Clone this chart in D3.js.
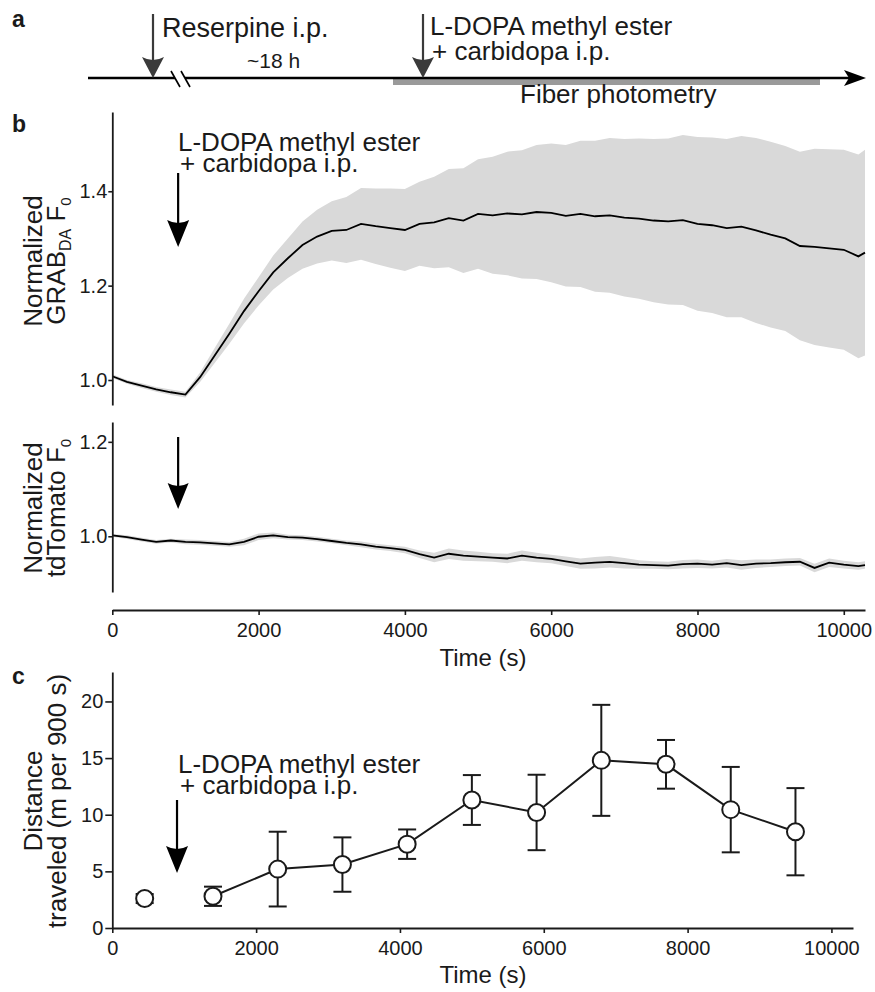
<!DOCTYPE html>
<html>
<head>
<meta charset="utf-8">
<script src="https://cdn.jsdelivr.net/npm/d3@7"></script>
<style>
  body { margin: 0; background: #fff; }
  svg { display: block; font-family: "Liberation Sans", Arial, Helvetica, sans-serif; }
</style>
</head>
<body>
<script>
// sample times of the photometry traces (s)
const traceTime = d3.range(0, 10201, 200).concat([10290]);

const grabMean = [1.008, 0.996, 0.988, 0.980, 0.974, 0.969, 1.006, 1.052, 1.098, 1.146,
  1.188, 1.228, 1.258, 1.286, 1.304, 1.316, 1.318, 1.331, 1.326, 1.322,
  1.318, 1.331, 1.334, 1.343, 1.338, 1.352, 1.349, 1.353, 1.351, 1.356,
  1.354, 1.348, 1.352, 1.347, 1.349, 1.344, 1.342, 1.338, 1.336, 1.339,
  1.331, 1.328, 1.322, 1.325, 1.317, 1.308, 1.300, 1.284, 1.282, 1.279,
  1.276, 1.262, 1.270];
const grabSem = [0.004, 0.004, 0.005, 0.005, 0.006, 0.006, 0.010, 0.016, 0.021, 0.026,
  0.030, 0.036, 0.042, 0.050, 0.057, 0.063, 0.070, 0.076, 0.080, 0.084,
  0.087, 0.089, 0.097, 0.104, 0.111, 0.116, 0.124, 0.131, 0.136, 0.142,
  0.147, 0.150, 0.155, 0.160, 0.164, 0.167, 0.170, 0.173, 0.176, 0.180,
  0.184, 0.186, 0.189, 0.192, 0.196, 0.197, 0.196, 0.200, 0.208, 0.210,
  0.212, 0.216, 0.218];

const tdMean = [1.002, 0.998, 0.993, 0.988, 0.991, 0.988, 0.987, 0.985, 0.983, 0.988,
  0.999, 1.002, 0.998, 0.997, 0.994, 0.990, 0.986, 0.983, 0.978, 0.975,
  0.971, 0.962, 0.955, 0.963, 0.959, 0.957, 0.955, 0.953, 0.959, 0.955,
  0.952, 0.947, 0.942, 0.944, 0.946, 0.943, 0.940, 0.939, 0.938, 0.941,
  0.942, 0.940, 0.943, 0.939, 0.942, 0.943, 0.945, 0.946, 0.933, 0.944,
  0.940, 0.937, 0.939];
const tdSem = [0.003, 0.004, 0.004, 0.004, 0.004, 0.005, 0.005, 0.005, 0.005, 0.007,
  0.007, 0.006, 0.005, 0.005, 0.005, 0.005, 0.005, 0.006, 0.006, 0.006,
  0.007, 0.008, 0.010, 0.011, 0.011, 0.010, 0.009, 0.010, 0.011, 0.010,
  0.009, 0.010, 0.011, 0.012, 0.012, 0.011, 0.009, 0.008, 0.008, 0.009,
  0.009, 0.008, 0.009, 0.010, 0.009, 0.008, 0.008, 0.008, 0.009, 0.009,
  0.008, 0.008, 0.008];

const distTime = [450, 1400, 2300, 3200, 4100, 5000, 5900, 6800, 7700, 8600, 9500];
const distMean = [2.6, 2.8, 5.2, 5.6, 7.4, 11.3, 10.2, 14.8, 14.45, 10.45, 8.5];
const distSem = [0.4, 0.85, 3.3, 2.4, 1.3, 2.2, 3.33, 4.9, 2.15, 3.77, 3.85];

const injectTime = 900;
const timeTicks = [0, 2000, 4000, 6000, 8000, 10000];
const grabTicks = [1.0, 1.2, 1.4];
const tdTicks = [1.0, 1.2];
const distTicks = [0, 5, 10, 15, 20];

const w = 875, h = 992;
const ink = "#1a1a1a";
const bandFill = "#d9d9d9";

const svg = d3.select("body").append("svg")
  .attr("width", w)
  .attr("height", h);

// scales
const xB = d3.scaleLinear().domain([0, 10290]).range([112.3, 865]);
const yGrab = d3.scaleLinear().domain([0.947, 1.568]).range([405, 112]);
const yTd = d3.scaleLinear().domain([0.882, 1.242]).range([592, 422]);
const xC = d3.scaleLinear().domain([0, 10300]).range([112.3, 853]);
const yC = d3.scaleLinear().domain([0, 22.6]).range([928, 672]);

const styleAxis = (g, size) => {
  g.select(".domain").attr("stroke", ink).attr("stroke-width", 1.8);
  g.selectAll(".tick line").attr("stroke", ink).attr("stroke-width", 1.6);
  g.selectAll(".tick text").attr("fill", ink).attr("font-size", size)
    .attr("font-family", "Liberation Sans, Arial, sans-serif");
};

const arrow = (x, yTop, yTip, headLen, headW, color) => {
  svg.append("line")
    .attr("x1", x).attr("x2", x)
    .attr("y1", yTop).attr("y2", yTip - headLen + 3)
    .attr("stroke", color).attr("stroke-width", 2.2);
  svg.append("path")
    .attr("d", `M${x - headW / 2},${yTip - headLen} Q${x},${yTip - headLen + 6} ${x + headW / 2},${yTip - headLen} L${x},${yTip} Z`)
    .attr("fill", color);
};

const panelLetter = (t, x, y) => {
  svg.append("text").attr("x", x).attr("y", y)
    .attr("font-size", 23).attr("font-weight", "bold").attr("fill", ink).text(t);
};

const twoLines = (x, y1, y2, l1, l2, size) => {
  svg.append("text").attr("x", x).attr("y", y1).attr("font-size", size).attr("fill", ink).text(l1);
  svg.append("text").attr("x", x + 2).attr("y", y2).attr("font-size", size).attr("fill", ink).text(l2);
};

const yLabel = (xa, xb, yc, line1, parts) => {
  svg.append("text")
    .attr("transform", `translate(${xa},${yc}) rotate(-90)`)
    .attr("text-anchor", "middle").attr("font-size", 26).attr("fill", ink)
    .text(line1);
  const t = svg.append("text")
    .attr("transform", `translate(${xb},${yc}) rotate(-90)`)
    .attr("text-anchor", "middle").attr("font-size", 26).attr("fill", ink);
  parts.forEach(p => {
    t.append("tspan").attr("font-size", p.size || 26).attr("dy", p.dy || 0).text(p.t);
  });
};

// ---------- panel a ----------
panelLetter("a", 12, 27);
svg.append("rect").attr("x", 393).attr("y", 79).attr("width", 427).attr("height", 6).attr("fill", "#9a9a9a");
svg.append("line").attr("x1", 88).attr("x2", 175).attr("y1", 78).attr("y2", 78)
  .attr("stroke", "#000").attr("stroke-width", 2.4);
svg.append("line").attr("x1", 185).attr("x2", 850).attr("y1", 78).attr("y2", 78)
  .attr("stroke", "#000").attr("stroke-width", 2.4);
svg.append("path").attr("d", "M844,70 L866,78 L844,86 L849,78 Z").attr("fill", "#000");
[[171, 180], [181, 190]].forEach(([a, b]) => {
  svg.append("line").attr("x1", a).attr("y1", 71).attr("x2", b).attr("y2", 87)
    .attr("stroke", "#000").attr("stroke-width", 1.6);
});
arrow(153, 14, 78, 21, 22, "#3a3a3a");
arrow(423, 14, 78, 21, 22, "#3a3a3a");
svg.append("text").attr("x", 162).attr("y", 37).attr("font-size", 27).attr("fill", ink).text("Reserpine i.p.");
svg.append("text").attr("x", 247).attr("y", 68).attr("font-size", 21).attr("fill", ink).text("~18 h");
twoLines(430, 35, 60, "L-DOPA methyl ester", "+ carbidopa i.p.", 26);
svg.append("text").attr("x", 520).attr("y", 103).attr("font-size", 26).attr("fill", ink).text("Fiber photometry");

// ---------- panel b ----------
panelLetter("b", 12, 132);
const idx = d3.range(traceTime.length);

svg.append("path")
  .attr("d", d3.area()
    .x(i => xB(traceTime[i]))
    .y0(i => yGrab(grabMean[i] - grabSem[i]))
    .y1(i => yGrab(grabMean[i] + grabSem[i]))(idx))
  .attr("fill", bandFill);
svg.append("path")
  .attr("d", d3.line().x(i => xB(traceTime[i])).y(i => yGrab(grabMean[i]))(idx))
  .attr("fill", "none").attr("stroke", "#000").attr("stroke-width", 1.8);

svg.append("g").attr("transform", `translate(${xB(0)},0)`)
  .call(d3.axisLeft(yGrab).tickValues(grabTicks).tickFormat(d3.format(".1f"))
    .tickSize(4).tickPadding(1).tickSizeOuter(0))
  .call(g => styleAxis(g, 20));

twoLines(178, 151, 172, "L-DOPA methyl ester", "+ carbidopa i.p.", 26);
arrow(xB(injectTime), 173, 247, 27, 22, "#000");

yLabel(42, 65, 261, "Normalized",
  [{ t: "GRAB" }, { t: "DA", size: 16, dy: 6 }, { t: " F", dy: -6 }, { t: "0", size: 15, dy: 6 }]);

// tdTomato
svg.append("path")
  .attr("d", d3.area()
    .x(i => xB(traceTime[i]))
    .y0(i => yTd(tdMean[i] - tdSem[i]))
    .y1(i => yTd(tdMean[i] + tdSem[i]))(idx))
  .attr("fill", bandFill);
svg.append("path")
  .attr("d", d3.line().x(i => xB(traceTime[i])).y(i => yTd(tdMean[i]))(idx))
  .attr("fill", "none").attr("stroke", "#000").attr("stroke-width", 1.8);

svg.append("g").attr("transform", `translate(${xB(0)},0)`)
  .call(d3.axisLeft(yTd).tickValues(tdTicks).tickFormat(d3.format(".1f"))
    .tickSize(4).tickPadding(1).tickSizeOuter(0))
  .call(g => styleAxis(g, 20));

svg.append("g").attr("transform", "translate(0,610)")
  .call(d3.axisBottom(xB).tickValues(timeTicks).tickFormat(d3.format("d"))
    .tickSize(5).tickPadding(8).tickSizeOuter(0))
  .call(g => styleAxis(g, 20));

svg.append("text").attr("x", 483).attr("y", 666).attr("text-anchor", "middle")
  .attr("font-size", 24).attr("fill", ink).text("Time (s)");

arrow(xB(injectTime), 437, 509, 26, 21, "#000");

yLabel(42, 65, 508, "Normalized",
  [{ t: "tdTomato F" }, { t: "0", size: 15, dy: 6 }]);

// ---------- panel c ----------
panelLetter("c", 12, 684);

svg.append("g").attr("transform", `translate(${xC(0)},0)`)
  .call(d3.axisLeft(yC).tickValues(distTicks).tickSize(7).tickPadding(2).tickSizeOuter(0))
  .call(g => styleAxis(g, 20));
svg.append("g").attr("transform", `translate(0,${yC(0)})`)
  .call(d3.axisBottom(xC).tickValues(timeTicks).tickFormat(d3.format("d"))
    .tickSize(5).tickPadding(8).tickSizeOuter(0))
  .call(g => styleAxis(g, 20));

svg.append("text").attr("x", 483).attr("y", 983).attr("text-anchor", "middle")
  .attr("font-size", 24).attr("fill", ink).text("Time (s)");

yLabel(42, 66, 801, "Distance", [{ t: "traveled (m per 900 s)" }]);

twoLines(178, 773, 794, "L-DOPA methyl ester", "+ carbidopa i.p.", 26);
arrow(xC(injectTime), 800, 873, 27, 22, "#000");

const dIdx = d3.range(distTime.length);
svg.append("path")
  .attr("d", d3.line().x(i => xC(distTime[i])).y(i => yC(distMean[i]))(dIdx.slice(1)))
  .attr("fill", "none").attr("stroke", ink).attr("stroke-width", 2);

const bars = svg.append("g").attr("stroke", ink).attr("stroke-width", 2);
dIdx.forEach(i => {
  const x = xC(distTime[i]);
  const hi = yC(distMean[i] + distSem[i]);
  const lo = yC(distMean[i] - distSem[i]);
  bars.append("line").attr("x1", x).attr("x2", x).attr("y1", hi).attr("y2", lo);
  bars.append("line").attr("x1", x - 9).attr("x2", x + 9).attr("y1", hi).attr("y2", hi);
  bars.append("line").attr("x1", x - 9).attr("x2", x + 9).attr("y1", lo).attr("y2", lo);
});

svg.append("g").selectAll("circle")
  .data(dIdx)
  .enter()
  .append("circle")
  .attr("cx", i => xC(distTime[i]))
  .attr("cy", i => yC(distMean[i]))
  .attr("r", 8.5)
  .attr("fill", "#fff")
  .attr("stroke", ink)
  .attr("stroke-width", 2);
</script>
</body>
</html>
